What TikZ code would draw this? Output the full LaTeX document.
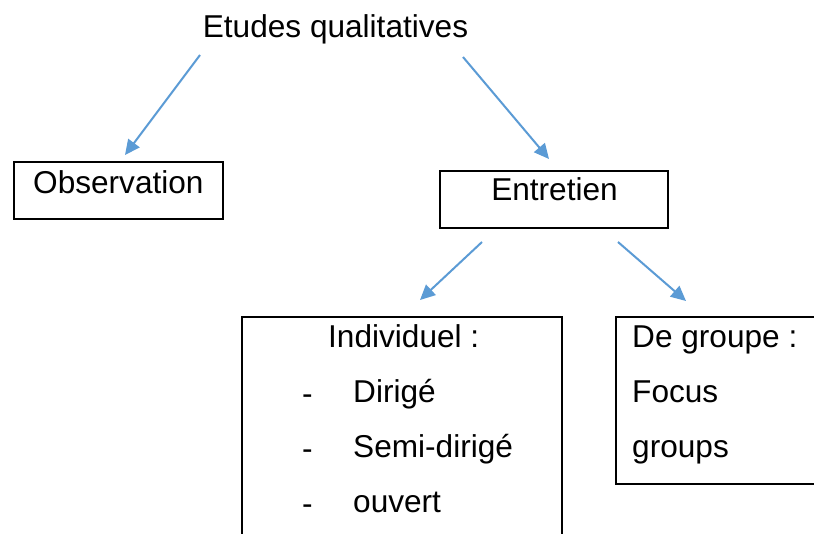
\documentclass[tikz,border=0pt]{standalone}
\usepackage{fontspec}
\setmainfont{Liberation Sans}
\usetikzlibrary{arrows.meta}
\definecolor{arrowblue}{HTML}{5B9BD5}
\begin{document}
\begin{tikzpicture}[x=1pt,y=-1pt,
  txt/.style={inner sep=0pt,anchor=base west,font=\fontsize{31.6}{37}\selectfont},
  ctxt/.style={inner sep=0pt,anchor=base,font=\fontsize{31.6}{37}\selectfont},
  boxshape/.style={draw=black,line width=2pt,rectangle,inner sep=0pt},
  conn/.style={draw=arrowblue,line width=2pt,-{Triangle[length=15pt,width=14pt]}}]
\useasboundingbox (0,0) rectangle (814,533);
\clip (0,0) rectangle (814,533);
\fill[white] (0,0) rectangle (814,533);
% boxes
\node[boxshape,minimum width=209pt,minimum height=57pt] (obsbox) at (118.5,190.5) {};
\node[boxshape,minimum width=228pt,minimum height=57pt] (entbox) at (554,199.5) {};
\node[boxshape,minimum width=320pt,minimum height=243pt] (indbox) at (402,438.5) {};
\node[boxshape,minimum width=224pt,minimum height=167pt] (grpbox) at (728,400.5) {};
% texts
\node[ctxt] (title) at (335.5,37) {Etudes qualitatives};
\node[txt] (obs) at (33,193) {Observation};
\node[ctxt] (ent) at (554.5,200) {Entretien};
\node[txt] (ind) at (328,347) {Individuel :};
\node[txt] (d1) at (302,404) {-};
\node[txt] (i1) at (353,402) {Dirigé};
\node[txt] (d2) at (302,459) {-};
\node[txt] (i2) at (353,457) {Semi-dirigé};
\node[txt] (d3) at (302,514) {-};
\node[txt] (i3) at (353,512) {ouvert};
\node[txt] (grp) at (632,347) {De groupe :};
\node[txt] (g1) at (632,402) {Focus};
\node[txt] (g2) at (632,457) {groups};
% connector end points
\coordinate (a1s) at (200,55);
\coordinate (a1e) at (125,155);
\coordinate (a2s) at (463,57);
\coordinate (a2e) at (549,159);
\coordinate (a3s) at (482,242);
\coordinate (a3e) at (420,300);
\coordinate (a4s) at (618,242);
\coordinate (a4e) at (686,301);
\draw[conn] (a1s) -- (a1e);
\draw[conn] (a2s) -- (a2e);
\draw[conn] (a3s) -- (a3e);
\draw[conn] (a4s) -- (a4e);
\end{tikzpicture}
\end{document}
